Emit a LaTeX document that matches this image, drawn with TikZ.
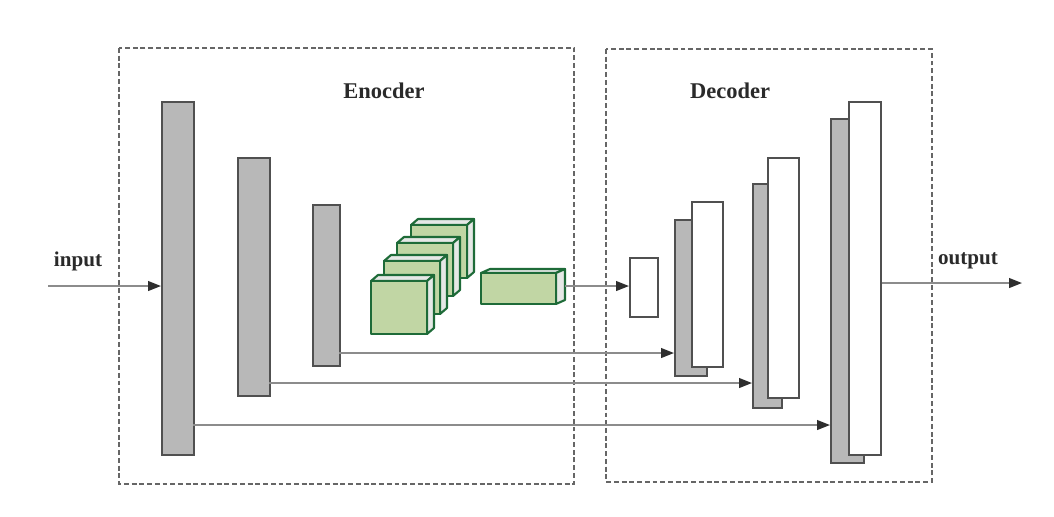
\documentclass[tikz,border=0pt]{standalone}
\usepackage{fontspec}
\setmainfont{Liberation Serif}
\usetikzlibrary{arrows.meta}

\definecolor{barfill}{HTML}{B8B8B8}
\definecolor{baredge}{HTML}{505050}
\definecolor{cubefill}{HTML}{C1D6A4}
\definecolor{cubeedge}{HTML}{1E6B38}
\definecolor{cubeside}{HTML}{E6E8E6}
\definecolor{lineclr}{HTML}{8C8C8C}
\definecolor{tipclr}{HTML}{2E2E2E}
\definecolor{txtclr}{HTML}{2A2A2A}

\tikzset{
    bar/.style 2 args={draw=baredge, line width=1.1pt, inner sep=0pt, anchor=north west,
        minimum width=#1*0.025cm, minimum height=#2*0.025cm},
    graybar/.style 2 args={bar={#1}{#2}, fill=barfill},
    whitebar/.style 2 args={bar={#1}{#2}, fill=white},
    dashbox/.style={draw=black!60, dash pattern=on 3.5pt off 2pt, line width=1pt},
    arr/.style={draw=lineclr, line width=1.3pt, -{Triangle[length=3.2mm,width=2.4mm,color=tipclr]}},
    lbl/.style={font=\fontsize{15}{18}\selectfont\bfseries, text=txtclr, inner sep=0pt},
    cubeline/.style={draw=cubeedge, line width=1.5pt, line join=round}
}

% front face top-left (x,y), size w x h, depth dx dy
\newcommand{\greencube}[6]{%
    \filldraw[cubeline, fill=cubeside] (#1,#2) -- ({#1+#5},{#2-#6}) -- ({#1+#3+#5},{#2-#6}) -- ({#1+#3},#2) -- cycle;
    \filldraw[cubeline, fill=cubeside] ({#1+#3},#2) -- ({#1+#3+#5},{#2-#6}) -- ({#1+#3+#5},{#2+#4-#6}) -- ({#1+#3},{#2+#4}) -- cycle;
    \filldraw[cubeline, fill=cubefill] (#1,#2) rectangle ({#1+#3},{#2+#4});
}

\begin{document}
\begin{tikzpicture}[x=0.025cm, y=-0.025cm]
    \useasboundingbox (0,0) rectangle (1054,516);

    % frames
    \draw[dashbox] (119,48) rectangle (574,484);
    \draw[dashbox] (606,49) rectangle (932,482);
    \node[lbl, font=\fontsize{16}{19}\selectfont\bfseries] (enc) at (384,91) {Enocder};
    \node[lbl, font=\fontsize{16}{19}\selectfont\bfseries] (dec) at (730,91) {Decoder};

    % encoder
    \node[graybar={32}{353}] (e1) at (161,101) {};
    \node[graybar={32}{238}] (e2) at (237,157) {};
    \node[graybar={27}{161}] (e3) at (312,204) {};

    \greencube{411}{225}{56}{53}{7}{6}
    \greencube{397}{243}{56}{53}{7}{6}
    \greencube{384}{261}{56}{53}{7}{6}
    \greencube{371}{281}{56}{53}{7}{6}
    \greencube{481}{273}{75}{31}{9}{4}

    % decoder
    \node[whitebar={28}{59}] (d0) at (629,257) {};
    \node[graybar={32}{156}] (d1g) at (674,219) {};
    \node[whitebar={31}{165}] (d1w) at (691,201) {};
    \node[graybar={29}{224}] (d2g) at (752,183) {};
    \node[whitebar={31}{240}] (d2w) at (767,157) {};
    \node[graybar={33}{344}] (d3g) at (830,118) {};
    \node[whitebar={32}{353}] (d3w) at (848,101) {};

    % connectors
    \coordinate (in) at (48,286);
    \coordinate (mid) at (565,286);
    \coordinate (s1) at (339,353);
    \coordinate (s2) at (269,383);
    \coordinate (s3) at (193,425);
    \coordinate (out) at (1022,283);

    \draw[arr] (in) -- (in -| e1.west);
    \draw[arr] (mid) -- (mid -| d0.west);
    \draw[arr] (s1) -- (s1 -| d1g.west);
    \draw[arr] (s2) -- (s2 -| d2g.west);
    \draw[arr] (s3) -- (s3 -| d3g.west);
    \draw[arr] (d3w.east |- out) -- (out);

    \node[lbl] (inlbl) at (78,261) {input};
    \node[lbl] (outlbl) at (968,261) {output};
\end{tikzpicture}
\end{document}
